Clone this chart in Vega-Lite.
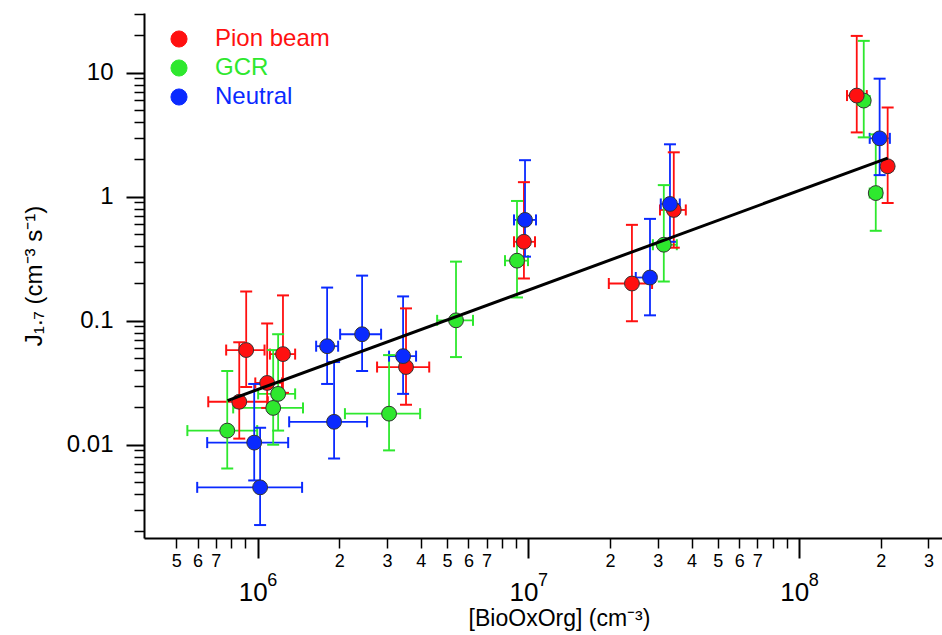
{
  "$schema": "https://vega.github.io/schema/vega-lite/v6.json",
  "width": 798,
  "height": 525,
  "autosize": {"type": "none"},
  "padding": {"left": 144, "top": 13, "right": 0, "bottom": 97},
  "background": "white",
  "config": {
    "view": {"stroke": null},
    "font": "Liberation Sans, Arial, sans-serif",
    "axis": {"grid": false, "labelColor": "black", "tickColor": "black", "domainColor": "black", "titleColor": "black", "titleFontWeight": "normal", "labelFont": "Liberation Sans, Arial, sans-serif", "titleFont": "Liberation Sans, Arial, sans-serif"}
  },
  "datasets": {
    "pts": [
      {"series": "GCR", "x": 772000, "xlo": 550000, "xhi": 996000, "y": 0.013, "ylo": 0.00643, "yhi": 0.0393},
      {"series": "GCR", "x": 1141000, "xlo": 812000, "xhi": 1470000, "y": 0.0198, "ylo": 0.01, "yhi": 0.058},
      {"series": "GCR", "x": 1190000, "xlo": 1004000, "xhi": 1375000, "y": 0.0257, "ylo": 0.013, "yhi": 0.0778},
      {"series": "GCR", "x": 3056000, "xlo": 2100000, "xhi": 3980000, "y": 0.0178, "ylo": 0.009, "yhi": 0.0528},
      {"series": "GCR", "x": 5400000, "xlo": 4600000, "xhi": 6240000, "y": 0.1007, "ylo": 0.0509, "yhi": 0.2995},
      {"series": "GCR", "x": 9070000, "xlo": 8190000, "xhi": 9960000, "y": 0.305, "ylo": 0.154, "yhi": 0.924},
      {"series": "GCR", "x": 31600000, "xlo": 28800000, "xhi": 35300000, "y": 0.41, "ylo": 0.207, "yhi": 1.24},
      {"series": "GCR", "x": 173000000, "xlo": 164300000, "xhi": 182000000, "y": 5.96, "ylo": 3.01, "yhi": 18.06},
      {"series": "GCR", "x": 191600000, "xlo": 182000000, "xhi": 202000000, "y": 1.07, "ylo": 0.531, "yhi": 3.18},
      {"series": "Pion beam", "x": 855000, "xlo": 657000, "xhi": 1090000, "y": 0.0222, "ylo": 0.0112, "yhi": 0.067},
      {"series": "Pion beam", "x": 907000, "xlo": 765000, "xhi": 1060000, "y": 0.058, "ylo": 0.0292, "yhi": 0.172},
      {"series": "Pion beam", "x": 1084000, "xlo": 980000, "xhi": 1230000, "y": 0.0315, "ylo": 0.0198, "yhi": 0.095},
      {"series": "Pion beam", "x": 1240000, "xlo": 1110000, "xhi": 1375000, "y": 0.0538, "ylo": 0.0262, "yhi": 0.16},
      {"series": "Pion beam", "x": 3530000, "xlo": 2760000, "xhi": 4300000, "y": 0.0423, "ylo": 0.021, "yhi": 0.1257},
      {"series": "Pion beam", "x": 9620000, "xlo": 8840000, "xhi": 10570000, "y": 0.433, "ylo": 0.219, "yhi": 1.31},
      {"series": "Pion beam", "x": 24100000, "xlo": 19800000, "xhi": 28600000, "y": 0.1995, "ylo": 0.099, "yhi": 0.593},
      {"series": "Pion beam", "x": 34400000, "xlo": 30600000, "xhi": 38100000, "y": 0.782, "ylo": 0.388, "yhi": 2.28},
      {"series": "Pion beam", "x": 163000000, "xlo": 150000000, "xhi": 177500000, "y": 6.54, "ylo": 3.3, "yhi": 19.8},
      {"series": "Pion beam", "x": 212000000, "xlo": 203000000, "xhi": 221000000, "y": 1.76, "ylo": 0.89, "yhi": 5.24},
      {"series": "Neutral", "x": 971000, "xlo": 651000, "xhi": 1296000, "y": 0.0104, "ylo": 0.00515, "yhi": 0.0309},
      {"series": "Neutral", "x": 1021000, "xlo": 598000, "xhi": 1459000, "y": 0.00453, "ylo": 0.00225, "yhi": 0.0137},
      {"series": "Neutral", "x": 1805000, "xlo": 1644000, "xhi": 1982000, "y": 0.0623, "ylo": 0.0309, "yhi": 0.185},
      {"series": "Neutral", "x": 1915000, "xlo": 1307000, "xhi": 2535000, "y": 0.0153, "ylo": 0.00774, "yhi": 0.0464},
      {"series": "Neutral", "x": 2430000, "xlo": 2016000, "xhi": 2856000, "y": 0.0778, "ylo": 0.0393, "yhi": 0.231},
      {"series": "Neutral", "x": 3443000, "xlo": 3056000, "xhi": 3845000, "y": 0.0518, "ylo": 0.0257, "yhi": 0.157},
      {"series": "Neutral", "x": 9710000, "xlo": 8840000, "xhi": 10660000, "y": 0.65, "ylo": 0.3285, "yhi": 1.97},
      {"series": "Neutral", "x": 28100000, "xlo": 24900000, "xhi": 29300000, "y": 0.223, "ylo": 0.1105, "yhi": 0.6625},
      {"series": "Neutral", "x": 33300000, "xlo": 30800000, "xhi": 36200000, "y": 0.874, "ylo": 0.433, "yhi": 2.646},
      {"series": "Neutral", "x": 198000000, "xlo": 182000000, "xhi": 216000000, "y": 2.955, "ylo": 1.493, "yhi": 8.95}
    ],
    "fit": [
      {"x": 774000, "y": 0.0227},
      {"x": 212000000, "y": 2.05}
    ]
  },
  "layer": [
    {
      "data": {"name": "pts"},
      "mark": {"type": "rule", "strokeWidth": 1.8},
      "encoding": {
        "x": {"field": "xlo", "type": "quantitative",
              "scale": {"type": "log", "domain": [380400, 336500000], "nice": false},
              "axis": {"orient": "bottom", "values": [1000000, 10000000, 100000000], "labelExpr": "'10'", "tickSize": 20, "tickWidth": 2, "domainWidth": 2, "labelFontSize": 26, "labelPadding": 21, "labelOffset": -5, "title": "[BioOxOrg] (cm⁻³)", "titleFontSize": 23, "titlePadding": 2, "titleX": 415}},
        "x2": {"field": "xhi"},
        "y": {"field": "y", "type": "quantitative",
              "scale": {"type": "log", "domain": [0.001769, 30.3], "nice": false},
              "axis": {"orient": "left", "values": [0.01, 0.1, 1, 10], "format": "~g", "tickSize": 18, "tickWidth": 2, "domainWidth": 2, "labelFontSize": 24, "labelPadding": 13, "title": "J₁.₇ (cm⁻³ s⁻¹)", "titleFontSize": 24, "titlePadding": 20}},
        "color": {"field": "series", "type": "nominal",
                  "scale": {"domain": ["Pion beam", "GCR", "Neutral"], "range": ["#ff1010", "#2ee82e", "#0a2aff"]},
                  "legend": {"orient": "none", "legendX": 23, "legendY": 14, "title": null, "padding": 0, "symbolType": "circle", "symbolSize": 260, "symbolStrokeColor": "#333333", "symbolStrokeWidth": 1, "symbolOpacity": 1, "labelFontSize": 24, "labelFont": "Liberation Sans, Arial, sans-serif", "labelOffset": 24, "rowPadding": 5,
                             "encode": {
                               "symbols": {"update": {"fill": {"scale": "color", "field": "value"}, "stroke": {"value": "#333333"}, "strokeWidth": {"value": 1}, "opacity": {"value": 1}, "shape": {"value": "circle"}}},
                               "labels": {"update": {"fill": {"scale": "color", "field": "value"}}}}}}
      }
    },
    {
      "data": {"name": "pts"},
      "mark": {"type": "rule", "strokeWidth": 1.8},
      "encoding": {
        "x": {"field": "x", "type": "quantitative",
              "scale": {"type": "log", "domain": [380400, 336500000], "nice": false},
              "axis": {"orient": "bottom", "values": [500000, 600000, 700000, 800000, 900000, 2000000, 3000000, 4000000, 5000000, 6000000, 7000000, 8000000, 9000000, 20000000, 30000000, 40000000, 50000000, 60000000, 70000000, 80000000, 90000000, 200000000, 300000000], "labelExpr": "round(datum.value / pow(10, floor(log(datum.value) / LN10 + 0.000001))) <= 7 ? '' + round(datum.value / pow(10, floor(log(datum.value) / LN10 + 0.000001))) : ''", "tickSize": 10, "tickWidth": 1.5, "domain": false, "labelFontSize": 18, "labelPadding": 4, "title": null}},
        "y": {"field": "ylo", "type": "quantitative",
              "scale": {"type": "log", "domain": [0.001769, 30.3], "nice": false},
              "axis": {"orient": "left", "values": [0.002, 0.003, 0.004, 0.005, 0.006, 0.007, 0.008, 0.009, 0.02, 0.03, 0.04, 0.05, 0.06, 0.07, 0.08, 0.09, 0.2, 0.3, 0.4, 0.5, 0.6, 0.7, 0.8, 0.9, 2, 3, 4, 5, 6, 7, 8, 9, 20, 30], "tickSize": 10, "tickWidth": 1.5, "domain": false, "labels": false, "title": null}},
        "y2": {"field": "yhi"},
        "color": {"field": "series", "type": "nominal"}
      }
    },
    {
      "data": {"name": "pts"},
      "transform": [{"fold": ["xlo", "xhi"], "as": ["k", "xcap"]}],
      "mark": {"type": "tick", "orient": "vertical", "size": 11, "thickness": 2, "opacity": 1},
      "encoding": {
        "x": {"field": "xcap", "type": "quantitative",
              "scale": {"type": "log", "domain": [380400, 336500000], "nice": false},
              "axis": {"orient": "bottom", "values": [1000000, 10000000, 100000000], "labelExpr": "datum.value < 5000000 ? '6' : datum.value < 50000000 ? '7' : '8'", "ticks": false, "domain": false, "labelFontSize": 18, "labelPadding": 33, "labelOffset": 14, "title": null}},
        "y": {"field": "y", "type": "quantitative", "axis": null},
        "color": {"field": "series", "type": "nominal"}
      }
    },
    {
      "data": {"name": "pts"},
      "transform": [{"fold": ["ylo", "yhi"], "as": ["k", "ycap"]}],
      "mark": {"type": "tick", "orient": "horizontal", "size": 12, "thickness": 2, "opacity": 1},
      "encoding": {
        "x": {"field": "x", "type": "quantitative", "axis": null},
        "y": {"field": "ycap", "type": "quantitative", "axis": null},
        "color": {"field": "series", "type": "nominal"}
      }
    },
    {
      "data": {"name": "pts"},
      "mark": {"type": "circle", "size": 220, "opacity": 1, "stroke": "#333333", "strokeWidth": 1},
      "encoding": {
        "x": {"field": "x", "type": "quantitative", "axis": null},
        "y": {"field": "y", "type": "quantitative", "axis": null},
        "color": {"field": "series", "type": "nominal"}
      }
    },
    {
      "data": {"name": "fit"},
      "mark": {"type": "line", "color": "black", "strokeWidth": 3},
      "encoding": {
        "x": {"field": "x", "type": "quantitative", "axis": null},
        "y": {"field": "y", "type": "quantitative", "axis": null}
      }
    }
  ],
  "resolve": {"axis": {"x": "independent", "y": "independent"}}
}
